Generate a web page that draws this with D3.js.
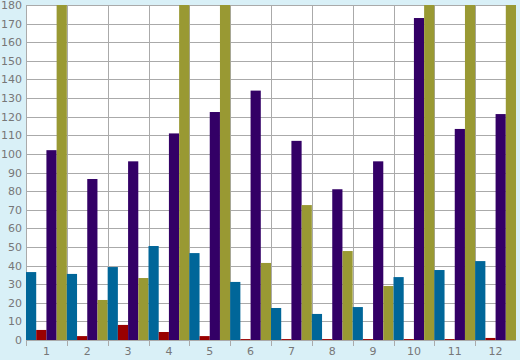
<!DOCTYPE html>
<html><head><meta charset="utf-8">
<script src="https://cdn.jsdelivr.net/npm/d3@7"></script>
<style>html,body{margin:0;padding:0;background:#d9f0f7;}svg{display:block;}</style>
</head><body>
<script>
const categories = ["1","2","3","4","5","6","7","8","9","10","11","12"];
const seriesNames = ["blue","red","purple","olive"];
const blueValues   = [36.5, 35.5, 39.2, 50.5, 46.7, 31.2, 17.2, 14.0, 17.7, 33.8, 37.6, 42.4];
const redValues    = [5.4, 2.1, 8.1, 4.3, 2.1, 0.5, 0.5, 0.5, 0.5, 0.5, 0.5, 1.1];
const purpleValues = [102, 86.5, 96, 111, 122.5, 134, 107, 81, 96, 173, 113.4, 121.4];
const oliveValues  = [200, 21.5, 33.3, 200, 200, 41.4, 72.5, 47.8, 29, 200, 200, 200];
const yTicks = [0,10,20,30,40,50,60,70,80,90,100,110,120,130,140,150,160,170,180];
const colors = ["#006699","#990000","#330066","#999933"];
const allSeries = [blueValues, redValues, purpleValues, oliveValues];

const W = 520, H = 360;
const m = {left:26, right:4, top:5, bottom:20};
const svg = d3.select("body").append("svg").attr("width",W).attr("height",H);
svg.append("rect").attr("width",W).attr("height",H).attr("fill","#d9f0f7");

const x0 = d3.scaleBand().domain(categories).range([m.left, W-m.right]).padding(0);
const x1 = d3.scaleBand().domain(seriesNames).range([0, x0.bandwidth()]).padding(0);
const y = d3.scaleLinear().domain([0,180]).range([H-m.bottom, m.top]);

svg.append("defs").append("clipPath").attr("id","clip")
  .append("rect").attr("x",m.left).attr("y",m.top).attr("width",W-m.right-m.left).attr("height",H-m.bottom-m.top);

svg.append("rect").attr("x",m.left).attr("y",m.top).attr("width",W-m.right-m.left).attr("height",H-m.bottom-m.top).attr("fill","#ffffff");

const grid = svg.append("g");
grid.selectAll("line.h").data(yTicks).join("line")
  .attr("x1",m.left).attr("x2",W-m.right)
  .attr("y1",d=>Math.round(y(d))+0.5).attr("y2",d=>Math.round(y(d))+0.5)
  .attr("stroke","#aaaaaa").attr("stroke-width",1);
grid.selectAll("line.v").data(categories).join("line")
  .attr("x1",d=>Math.round(x0(d))+0.5).attr("x2",d=>Math.round(x0(d))+0.5)
  .attr("y1",m.top).attr("y2",H-m.bottom+6)
  .attr("stroke","#aaaaaa").attr("stroke-width",1);

const bars = svg.append("g").attr("clip-path","url(#clip)");
categories.forEach((c,i)=>{
  allSeries.forEach((s,j)=>{
    bars.append("rect")
      .attr("x", x0(c)+x1(seriesNames[j]))
      .attr("width", x1.bandwidth())
      .attr("y", y(s[i]))
      .attr("height", y(0)-y(s[i]))
      .attr("fill", colors[j]);
  });
});

const yAxis = d3.axisLeft(y).tickValues(yTicks).tickSize(0).tickPadding(4);
const ya = svg.append("g").attr("transform",`translate(${m.left},0)`).call(yAxis);
ya.select(".domain").remove();
ya.selectAll("text").attr("fill","#777777").style("font-family","DejaVu Sans").style("font-size","11px");

const xAxis = d3.axisBottom(x0).tickSize(0).tickPadding(7);
const xa = svg.append("g").attr("transform",`translate(0,${H-m.bottom})`).call(xAxis);
xa.select(".domain").remove();
xa.selectAll("text").attr("fill","#777777").style("font-family","DejaVu Sans").style("font-size","11px");
</script>
</body></html>
